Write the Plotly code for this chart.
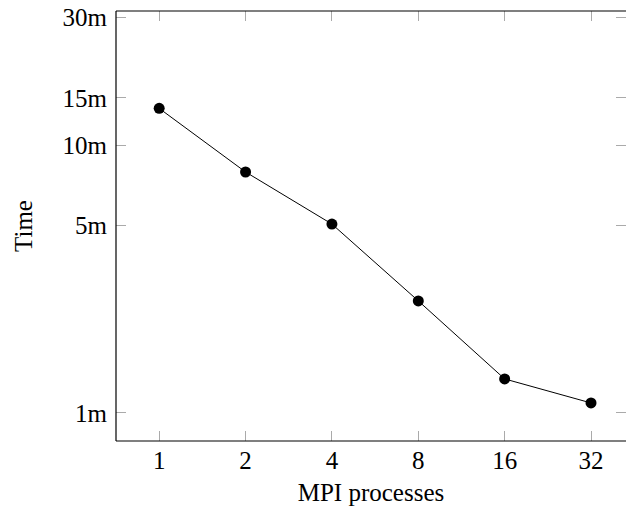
import math
import plotly.graph_objects as go

processes = [1, 2, 4, 8, 16, 32]
time_min = [13.7, 7.93, 5.07, 2.62, 1.34, 1.09]
y_tick_vals = [1, 5, 10, 15, 30]
y_tick_text = ["1m", "5m", "10m", "15m", "30m"]
x_tick_text = ["1", "2", "4", "8", "16", "32"]

FONT = "Liberation Serif"
FS = 25
TICK = "#aaaaaa"

fig = go.Figure()
fig.add_trace(go.Scatter(
    x=processes, y=time_min, mode="lines+markers",
    line=dict(color="black", width=1),
    marker=dict(color="black", size=11),
    showlegend=False, cliponaxis=False,
))
# invisible trace on overlay axes, which only carry the mirrored ticks
fig.add_trace(go.Scatter(
    x=processes, y=time_min, mode="markers", xaxis="x2", yaxis="y2",
    marker=dict(opacity=0), showlegend=False, hoverinfo="skip",
))

l2 = math.log10(2)
xrange = [-0.5 * l2, 5.405 * l2]
yrange = [-0.1045, 1.5]
common = dict(ticks="inside", ticklen=10, tickcolor=TICK, tickwidth=1,
              showline=False, showgrid=False, zeroline=False)
fig.update_layout(
    width=626, height=516,
    margin=dict(l=116, r=0, t=11, b=75),
    paper_bgcolor="white", plot_bgcolor="white",
    font=dict(family=FONT, size=FS, color="black"),
    xaxis=dict(
        type="log", range=xrange, tickvals=processes, ticktext=x_tick_text,
        ticklabelstandoff=2,
        title=dict(text="MPI processes", standoff=10, font=dict(size=FS)),
        **common,
    ),
    yaxis=dict(
        type="log", range=yrange, tickvals=y_tick_vals, ticktext=y_tick_text,
        ticklabelstandoff=8,
        title=dict(text="Time", standoff=22, font=dict(size=FS)),
        **common,
    ),
    xaxis2=dict(
        type="log", range=xrange, tickvals=processes, showticklabels=False,
        overlaying="x", side="top", **common,
    ),
    yaxis2=dict(
        type="log", range=yrange, tickvals=y_tick_vals, showticklabels=False,
        overlaying="y", side="right", **common,
    ),
    shapes=[
        dict(type="line", xref="paper", yref="paper", x0=0, x1=0, y0=0, y1=1,
             line=dict(color="black", width=1.2)),
        dict(type="line", xref="paper", yref="paper", x0=0, x1=1, y0=0, y1=0,
             line=dict(color="black", width=1.2)),
        dict(type="line", xref="paper", yref="paper", x0=0, x1=1, y0=1, y1=1,
             line=dict(color="black", width=1.2)),
    ],
)

fig.write_html(
    "out.html",
    config={"displayModeBar": False},
    post_script="document.documentElement.style.overflow='hidden';document.body.style.margin='0';document.body.style.overflow='hidden';",
)
